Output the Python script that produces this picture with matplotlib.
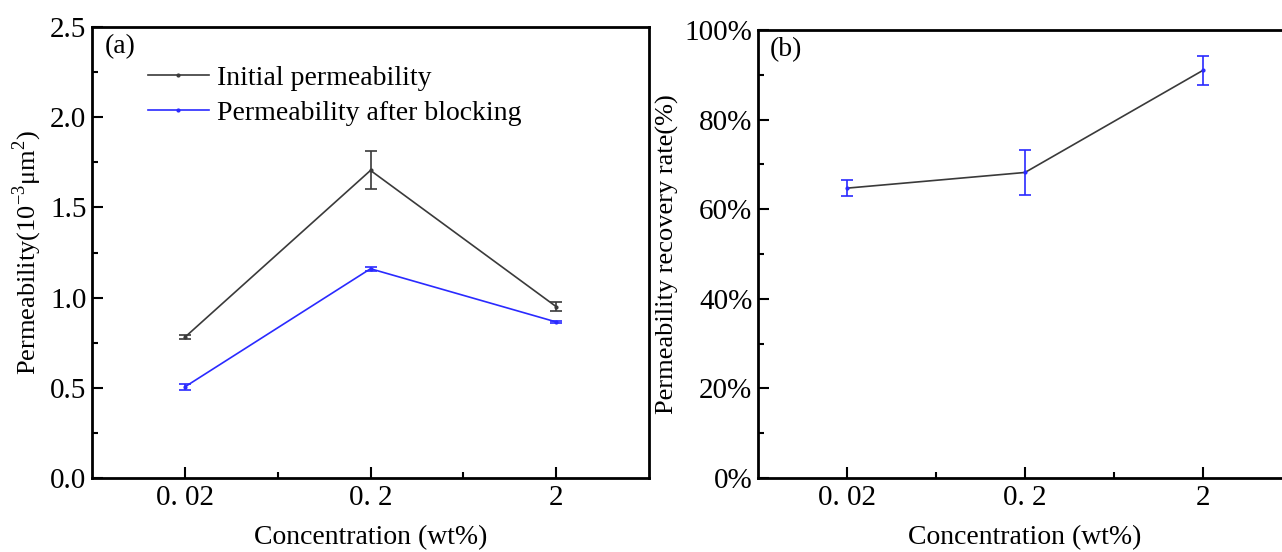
import matplotlib.pyplot as plt
from matplotlib.ticker import MultipleLocator, FixedLocator, FuncFormatter
from matplotlib.lines import Line2D

plt.rcParams['font.family'] = ['Liberation Serif', 'DejaVu Serif']
plt.rcParams['mathtext.fontset'] = 'custom'
plt.rcParams['mathtext.rm'] = 'Liberation Serif'

conc_labels = ['0. 02', '0. 2', '2']
x = [0, 1, 2]

initial_perm = [0.78, 1.705, 0.95]
initial_err = [0.012, 0.105, 0.025]
blocked_perm = [0.505, 1.16, 0.865]
blocked_err = [0.015, 0.01, 0.008]

recovery = [64.7, 68.2, 91.0]
recovery_err = [1.8, 5.0, 3.3]

fig = plt.figure(figsize=(12.82, 5.52), dpi=100)
ax1 = fig.add_axes([92/1282, 1 - 478/552, (649-92)/1282, (478-27)/552])
ax2 = fig.add_axes([758/1282, 1 - 478/552, (1292-758)/1282, (478-30)/552])

blue = '#2a2aff'
dark = '#3a3a3a'

ax1.errorbar(x, initial_perm, yerr=initial_err, color=dark, lw=1.2, marker='o', ms=2,
             capsize=4, elinewidth=1.2, capthick=1.2)
ax1.errorbar(x, blocked_perm, yerr=blocked_err, color=blue, lw=1.2, marker='o', ms=2,
             capsize=4, elinewidth=1.2, capthick=1.2)
ax1.set_ylim(0, 2.5)
ax1.yaxis.set_major_locator(MultipleLocator(0.5))
ax1.yaxis.set_minor_locator(MultipleLocator(0.25))
ax1.yaxis.set_major_formatter(FuncFormatter(lambda v, p: f'{v:.1f}'))
ax1.set_ylabel('Permeability(10$^{-3}$μm$^{2}$)', fontsize=19, labelpad=4)
handles = [Line2D([], [], color=dark, lw=1.2, marker='o', ms=2),
           Line2D([], [], color=blue, lw=1.2, marker='o', ms=2)]
ax1.legend(handles, ['Initial permeability', 'Permeability after blocking'],
           loc='upper left', bbox_to_anchor=(0.1, 0.915), frameon=False, fontsize=20,
           handlelength=2.2, handletextpad=0.3, labelspacing=0.35, borderaxespad=0,
           borderpad=0)
ax1.text(0.022, 0.985, '(a)', transform=ax1.transAxes, fontsize=20, va='top', ha='left')

ax2.plot(x, recovery, color=dark, lw=1.2)
ax2.errorbar(x, recovery, yerr=recovery_err, fmt='o', ms=2, color=blue,
             capsize=4, elinewidth=1.2, capthick=1.2)
ax2.set_ylim(0, 100)
ax2.yaxis.set_major_locator(MultipleLocator(20))
ax2.yaxis.set_minor_locator(MultipleLocator(10))
ax2.yaxis.set_major_formatter(FuncFormatter(lambda v, p: f'{v:.0f}%'))
ax2.set_ylabel('Permeability recovery rate(%)', fontsize=19, labelpad=4)
ax2.text(0.022, 0.985, '(b)', transform=ax2.transAxes, fontsize=20, va='top', ha='left')

for ax in (ax1, ax2):
    ax.set_xlim(-0.5, 2.5)
    ax.set_xticks(x)
    ax.set_xticklabels(conc_labels)
    ax.xaxis.set_minor_locator(FixedLocator([0.5, 1.5]))
    ax.set_xlabel('Concentration (wt%)', fontsize=20, labelpad=10)
    ax.tick_params(which='both', direction='in', labelsize=21, width=1.5)
    ax.tick_params(which='major', length=8)
    ax.tick_params(which='minor', length=4)
    ax.tick_params(axis='x', pad=5)
    ax.tick_params(axis='y', pad=4)
    for s in ax.spines.values():
        s.set_linewidth(2)

fig.savefig('out.png', dpi=100)
